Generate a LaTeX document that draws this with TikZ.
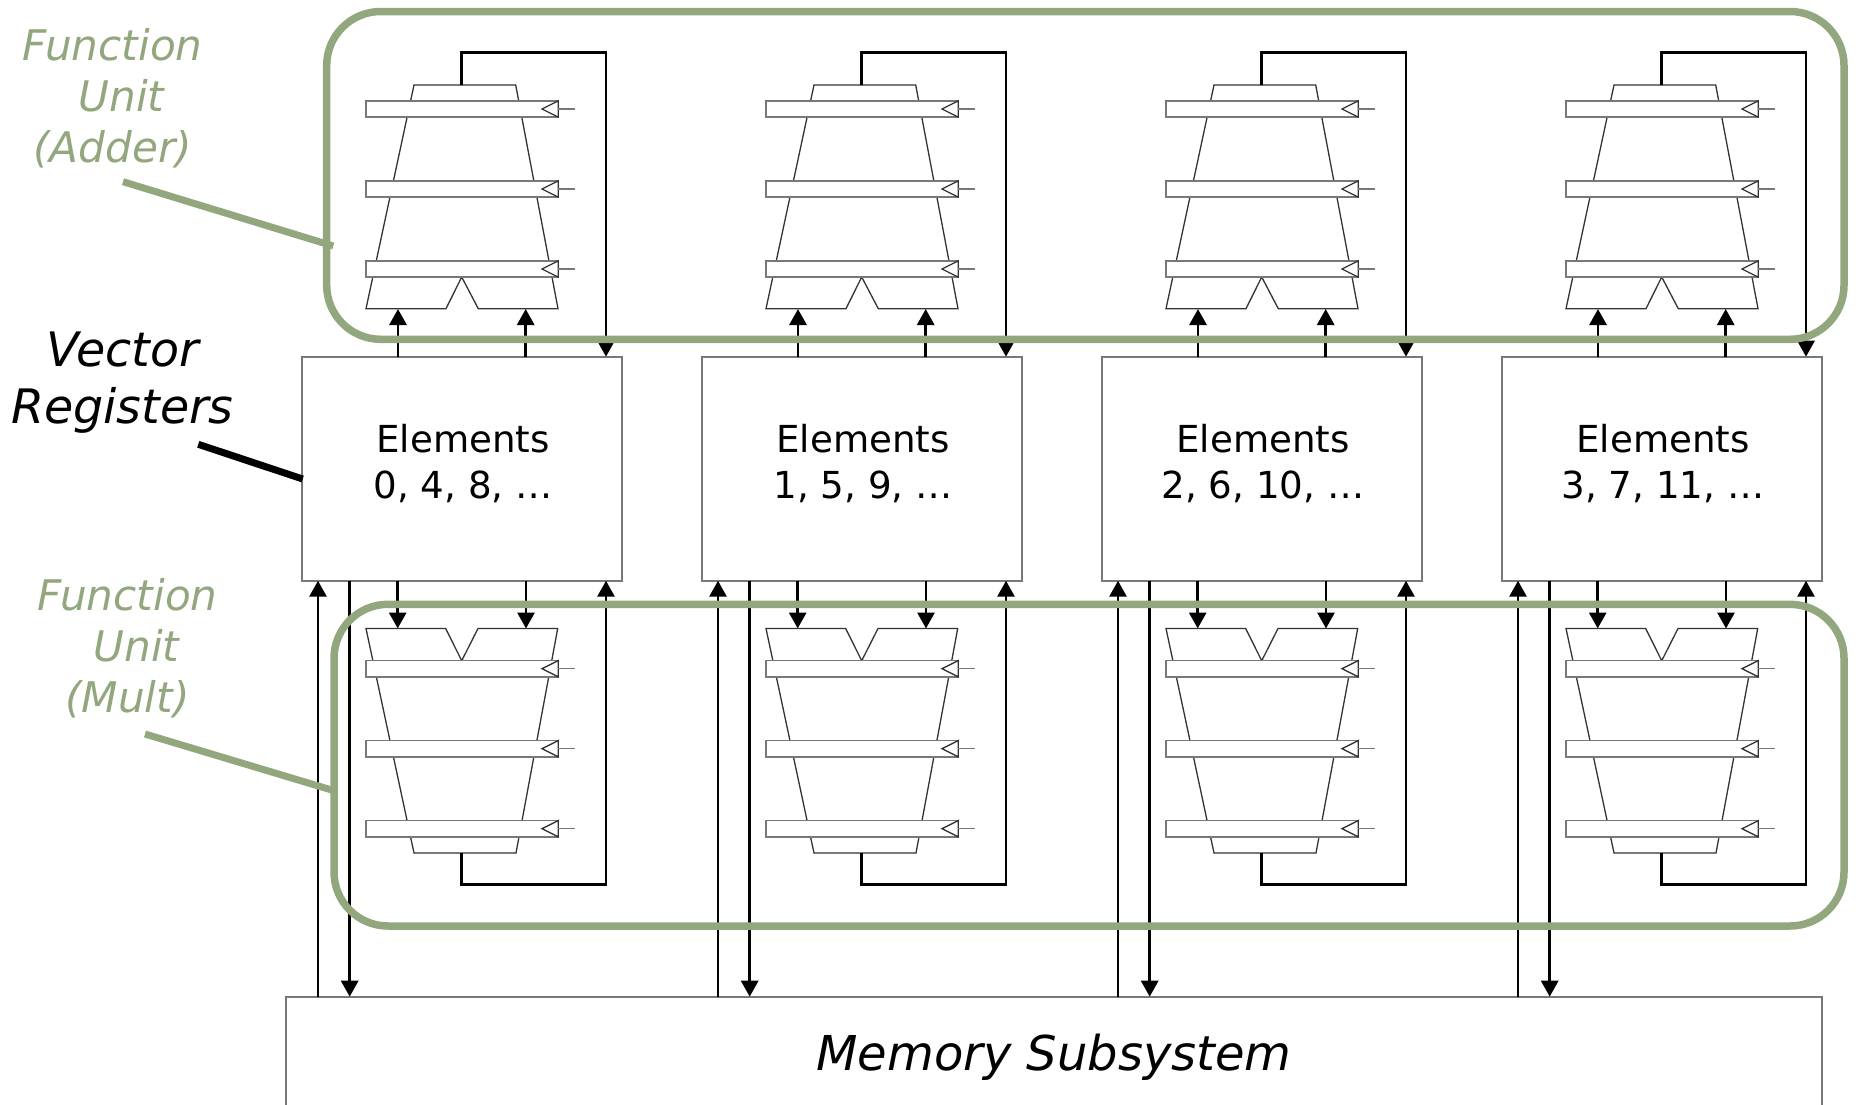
\documentclass[tikz,border=0pt]{standalone}
\usepackage{fontspec}
\setmainfont{DejaVu Sans}
\usetikzlibrary{arrows.meta}
\definecolor{fugreen}{RGB}{146,167,125}
\definecolor{wiregray}{RGB}{120,120,120}
\tikzset{
	regbox/.style={draw=wiregray, line width=1.6pt, fill=white, inner sep=0pt, outer sep=0pt, minimum width=320.3pt, minimum height=224pt},
	membox/.style={draw=wiregray, line width=1.6pt, fill=white, inner sep=0pt, outer sep=0pt, minimum width=1536pt, minimum height=122pt, font=\fontsize{48}{58}\selectfont\itshape},
	reglabel/.style={align=center, inner sep=0pt, font=\fontsize{37.2}{46}\selectfont},
	latchbox/.style={draw=wiregray, line width=1.8pt, fill=white, inner sep=0pt, outer sep=0pt, minimum width=192.3pt, minimum height=16.3pt},
	aluline/.style={draw=black!80, line width=1.3pt, line join=miter},
	clockline/.style={draw=wiregray, line width=1.5pt},
	clocktri/.style={draw=black!80, line width=1.3pt, fill=white},
	bus/.style={line width=2.9pt, line join=miter},
	busarrow/.style={bus, -{Triangle[length=16pt,width=17pt]}},
	unitframe/.style={draw=fugreen, line width=7.5pt, rounded corners=54pt},
	greenleader/.style={draw=fugreen, line width=7pt},
	blackleader/.style={draw=black, line width=7pt},
	greenlabel/.style={align=center, inner sep=0pt, text=fugreen, font=\fontsize{42.2}{51}\selectfont\itshape},
	blacklabel/.style={align=center, inner sep=0pt, font=\fontsize{47.5}{57}\selectfont\itshape}
}
\begin{document}
\begin{tikzpicture}[x=1pt, y=-1pt]
			%%%%% START %%%%%
			
			\useasboundingbox (0, 0) rectangle (1860, 1104);
			
			\node[membox] (memsub) at (1054, 1057.7) {Memory Subsystem};
			
			\foreach \c/\elems in {0/{0, 4, 8, …}, 1/{1, 5, 9, …}, 2/{2, 6, 10, …}, 3/{3, 7, 11, …}} {
				\begin{scope}[xshift=\c*400pt]
					\node[regbox] (reg\c) at (461.85, 468.7) {};
					\node[reglabel] (reglabel\c) at (463, 463.5) {Elements\\\elems};
					
					% adder
					\draw[aluline] (414, 85) -- (515.7, 85) -- (558, 308.7) -- (478.3, 308.7) -- (461.7, 277) -- (446, 308.7) -- (366, 308.7) -- cycle;
					\foreach \y/\k in {109/a, 189/b, 269/c} {
						\node[latchbox] (add\k\c) at (462.15, \y) {};
						\draw[clocktri] (add\k\c.north east) -- (542, \y) -- (add\k\c.south east) -- cycle;
						\coordinate (addclk\k\c) at (574.7, \y);
						\draw[clockline] (add\k\c.east) -- (addclk\k\c);
					}
					\coordinate (addina\c) at (398, 309);
					\coordinate (addinb\c) at (525.7, 309);
					\coordinate (addout\c) at (461.7, 85);
					\coordinate (addfb\c) at (606, 52.7);
					\draw[busarrow] (addina\c |- reg\c.north) -- (addina\c);
					\draw[busarrow] (addinb\c |- reg\c.north) -- (addinb\c);
					\draw[busarrow] (addout\c) |- (addfb\c) -- (addfb\c |- reg\c.north);
					
					% multiplier
					\draw[aluline] (366, 628.5) -- (445.7, 628.5) -- (461.7, 660.7) -- (478, 628.5) -- (557.7, 628.5) -- (516, 853) -- (414, 853) -- cycle;
					\foreach \y/\k in {668.7/a, 748.7/b, 828.7/c} {
						\node[latchbox] (mul\k\c) at (462.15, \y) {};
						\draw[clocktri] (mul\k\c.north east) -- (542, \y) -- (mul\k\c.south east) -- cycle;
						\coordinate (mulclk\k\c) at (574.7, \y);
						\draw[clockline] (mul\k\c.east) -- (mulclk\k\c);
					}
					\coordinate (mulina\c) at (397.7, 628.5);
					\coordinate (mulinb\c) at (526, 628.5);
					\coordinate (mulout\c) at (461.7, 853);
					\coordinate (mulfb\c) at (606, 884.3);
					\draw[busarrow] (mulina\c |- reg\c.south) -- (mulina\c);
					\draw[busarrow] (mulinb\c |- reg\c.south) -- (mulinb\c);
					\draw[busarrow] (mulout\c) |- (mulfb\c) -- (mulfb\c |- reg\c.south);
					
					% memory
					\coordinate (load\c) at (318, 996.7);
					\coordinate (store\c) at (349.7, 996.7);
					\draw[busarrow] (load\c) -- (load\c |- reg\c.south);
					\draw[busarrow] (store\c |- reg\c.south) -- (store\c);
				\end{scope}
			}
			
			\draw[unitframe] (326.7, 11.5) rectangle (1844, 339.3);
			\draw[unitframe] (334, 604.3) rectangle (1844, 926);
			
			\node[greenlabel] (addlabel) at (112.5, 98.5) {Function\\\hspace*{18pt}Unit\\(Adder)};
			\node[greenlabel] (mullabel) at (127.5, 648.5) {Function\\\hspace*{18pt}Unit\\(Mult)};
			\node[blacklabel] (veclabel) at (122.5, 383) {Vector\\Registers};
			
			\coordinate (addtail) at (123, 181.7);
			\coordinate (addhead) at (333.3, 246);
			\coordinate (multail) at (145, 734);
			\coordinate (mulhead) at (331.7, 790);
			\coordinate (vectail) at (198.3, 444.3);
			\coordinate (vechead) at (302.7, 479);
			\draw[greenleader] (addtail) -- (addhead);
			\draw[greenleader] (multail) -- (mulhead);
			\draw[blackleader] (vectail) -- (vechead);
			
			%%%%% END %%%%%
		\end{tikzpicture}
\end{document}
